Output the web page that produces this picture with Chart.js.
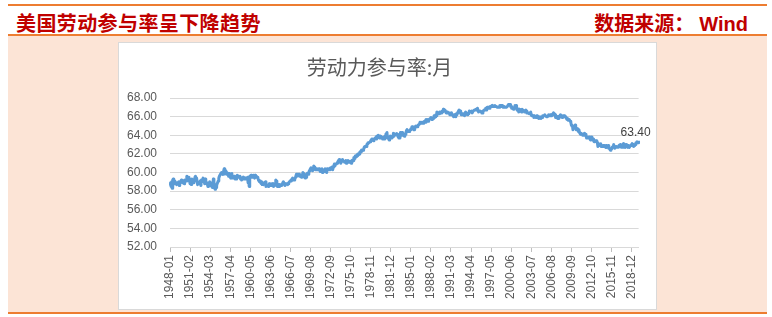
<!DOCTYPE html>
<html lang="zh-CN">
<head>
    <meta charset="UTF-8">
    <title>美国劳动参与率呈下降趋势</title>
    <script src="https://cdn.jsdelivr.net/npm/chart.js"></script>
    <style>
        body { margin: 0; width: 772px; height: 317px; background: #fff; position: relative; overflow: hidden; }
        .rule { position: absolute; left: 8px; width: 759px; height: 2px; background: #ED7D31; }
        .head { position: absolute; top: 13px; line-height: 20px; font-family: "Noto Sans CJK SC", sans-serif;
                font-size: 20px; font-weight: bold; color: #C00000; white-space: nowrap; }
        .panel { position: absolute; left: 8px; top: 36px; width: 759px; height: 276px; background: #FCE4D6; }
        .chart-box { position: absolute; left: 118px; top: 42px; width: 537px; height: 266px;
                     background: #fff; border: 1px solid #d9d9d9; }
    </style>
</head>
<body>
    <div class="rule" style="top:4px"></div>
    <div class="head" style="left:16px;letter-spacing:0.4px">美国劳动参与率呈下降趋势</div>
    <div class="head" style="right:24px">数据来源：<span style="margin-left:5px;font-family:'Liberation Sans',sans-serif">Wind</span></div>
    <div class="rule" style="top:34px"></div>
    <div class="panel"></div>
    <div class="rule" style="top:312px"></div>
    <div class="chart-box">
        <canvas id="lfprChart" width="537" height="266"></canvas>
    </div>
<script>
    // monthly labor force participation rate, 1948-01 .. 2020-01 (one row per year)
    const startYear = 1948;
    const lfpr = [
        58.6, 58.9, 58.5, 59.0, 58.3, 59.2, 59.3, 59.1, 59.1, 58.8, 58.9, 58.9,
        58.7, 58.9, 58.8, 58.8, 59.0, 58.6, 58.9, 59.0, 59.1, 59.2, 59.0, 58.9,
        58.9, 58.9, 58.8, 59.2, 59.1, 59.1, 59.1, 59.6, 59.2, 59.5, 59.5, 59.3,
        59.1, 58.8, 59.1, 58.7, 59.3, 58.9, 59.1, 59.1, 58.9, 59.3, 59.5, 59.6,
        59.2, 59.4, 59.0, 58.7, 58.8, 58.9, 58.8, 58.8, 59.1, 58.6, 59.2, 59.0,
        59.2, 59.4, 59.4, 59.0, 58.8, 59.3, 59.1, 58.8, 58.9, 58.7, 58.5, 58.5,
        58.8, 59.0, 58.6, 58.9, 58.6, 58.5, 58.4, 58.8, 59.3, 59.0, 58.5, 58.2,
        58.5, 58.4, 58.6, 58.8, 58.8, 59.1, 59.4, 59.6, 59.6, 59.8, 59.8, 60.0,
        59.9, 59.8, 59.8, 60.2, 60.4, 60.3, 60.2, 60.0, 59.8, 60.0, 59.8, 59.9,
        59.6, 59.9, 59.6, 59.5, 59.4, 59.8, 59.9, 59.4, 59.4, 59.5, 59.4, 59.6,
        59.3, 59.4, 59.3, 59.6, 59.7, 59.7, 59.5, 59.6, 59.5, 59.6, 59.3, 59.4,
        59.2, 59.3, 59.4, 59.5, 59.3, 59.3, 59.4, 59.4, 59.3, 59.4, 59.4, 59.5,
        58.9, 59.2, 58.5, 59.6, 59.6, 59.7, 59.7, 59.5, 59.6, 59.5, 59.7, 59.5,
        59.4, 59.7, 59.5, 59.6, 59.6, 59.5, 59.4, 59.2, 59.2, 59.0, 59.1, 59.0,
        58.8, 59.0, 58.7, 58.8, 58.7, 58.7, 58.9, 58.9, 59.0, 58.5, 58.6, 58.6,
        58.6, 58.5, 58.6, 58.8, 58.6, 58.6, 58.8, 58.6, 58.8, 58.7, 58.8, 58.5,
        58.6, 58.8, 58.7, 59.2, 59.1, 58.8, 58.5, 58.7, 58.7, 58.5, 58.7, 58.6,
        58.6, 58.7, 58.6, 58.8, 58.9, 59.0, 59.0, 58.8, 58.6, 58.8, 58.8, 58.8,
        58.8, 58.7, 58.8, 58.9, 59.0, 59.0, 59.1, 59.2, 59.1, 59.3, 59.4, 59.3,
        59.2, 59.2, 59.3, 59.4, 59.4, 59.8, 59.6, 59.8, 59.7, 59.8, 59.8, 59.6,
        59.6, 59.6, 59.5, 59.6, 59.8, 60.0, 59.9, 59.8, 59.5, 59.4, 59.6, 59.5,
        59.8, 59.9, 59.9, 59.8, 60.0, 60.2, 60.3, 60.4, 60.5, 60.5, 60.3, 60.2,
        60.4, 60.7, 60.6, 60.5, 60.3, 60.4, 60.4, 60.3, 60.3, 60.3, 60.4, 60.4,
        60.3, 60.1, 60.1, 60.3, 60.4, 60.0, 60.1, 60.2, 60.1, 60.3, 60.4, 60.4,
        60.1, 60.0, 60.4, 60.4, 60.4, 60.4, 60.3, 60.4, 60.5, 60.5, 60.4, 60.6,
        60.3, 60.6, 60.7, 60.9, 60.7, 60.9, 60.9, 60.9, 61.0, 61.1, 61.2, 61.2,
        61.4, 61.3, 61.1, 61.0, 61.2, 61.2, 61.4, 61.2, 61.2, 61.2, 61.1, 61.1,
        61.3, 61.0, 61.2, 61.2, 61.3, 61.1, 61.2, 61.1, 61.2, 61.1, 61.0, 61.1,
        61.3, 61.2, 61.3, 61.6, 61.5, 61.7, 61.8, 61.8, 61.7, 61.8, 62.0, 62.0,
        61.9, 62.0, 62.2, 62.2, 62.3, 62.4, 62.3, 62.4, 62.4, 62.5, 62.7, 62.8,
        62.8, 62.8, 62.8, 63.0, 63.1, 63.2, 63.2, 63.2, 63.2, 63.3, 63.4, 63.5,
        63.6, 63.6, 63.6, 63.4, 63.5, 63.6, 63.7, 63.7, 63.6, 63.9, 63.8, 63.9,
        64.0, 64.0, 63.7, 63.8, 63.9, 63.7, 63.8, 63.7, 63.6, 63.7, 63.8, 63.6,
        63.9, 63.9, 64.1, 64.2, 64.3, 63.7, 63.8, 63.8, 63.5, 63.8, 63.9, 63.7,
        63.7, 63.8, 63.8, 63.9, 64.2, 63.9, 64.0, 64.1, 64.1, 64.1, 64.2, 64.1,
        63.9, 63.8, 63.7, 63.8, 63.7, 64.3, 64.1, 64.3, 64.3, 64.0, 64.1, 64.1,
        63.9, 64.1, 64.1, 64.3, 64.5, 64.6, 64.6, 64.4, 64.4, 64.4, 64.5, 64.6,
        64.7, 64.7, 64.9, 64.9, 64.8, 64.6, 64.7, 64.6, 64.9, 65.0, 64.9, 65.0,
        64.9, 65.0, 65.1, 65.1, 65.2, 65.4, 65.4, 65.3, 65.4, 65.4, 65.4, 65.3,
        65.4, 65.5, 65.5, 65.4, 65.7, 65.5, 65.6, 65.7, 65.5, 65.7, 65.7, 65.7,
        65.8, 65.9, 65.7, 65.8, 65.7, 65.8, 65.9, 66.1, 65.9, 66.0, 66.2, 66.1,
        66.5, 66.3, 66.3, 66.4, 66.3, 66.5, 66.5, 66.5, 66.4, 66.5, 66.6, 66.5,
        66.8, 66.7, 66.7, 66.6, 66.6, 66.4, 66.5, 66.5, 66.4, 66.4, 66.4, 66.4,
        66.2, 66.2, 66.3, 66.4, 66.2, 66.2, 66.1, 66.0, 66.2, 66.1, 66.1, 66.0,
        66.3, 66.2, 66.4, 66.5, 66.6, 66.7, 66.7, 66.6, 66.4, 66.2, 66.3, 66.3,
        66.2, 66.2, 66.2, 66.1, 66.4, 66.5, 66.4, 66.4, 66.2, 66.3, 66.3, 66.4,
        66.6, 66.6, 66.5, 66.5, 66.6, 66.4, 66.4, 66.6, 66.6, 66.7, 66.7, 66.7,
        66.8, 66.8, 66.7, 66.9, 66.6, 66.5, 66.6, 66.6, 66.6, 66.6, 66.5, 66.4,
        66.4, 66.6, 66.6, 66.7, 66.7, 66.7, 66.9, 66.7, 66.9, 67.0, 66.9, 67.0,
        67.0, 66.9, 67.1, 67.1, 67.1, 67.1, 67.2, 67.1, 67.1, 67.1, 67.1, 67.2,
        67.1, 67.1, 67.1, 67.0, 67.0, 67.0, 67.0, 67.0, 67.2, 67.2, 67.1, 67.2,
        67.2, 67.2, 67.0, 67.1, 67.1, 67.1, 67.0, 67.0, 67.0, 67.0, 67.1, 67.1,
        67.3, 67.3, 67.3, 67.3, 67.1, 67.1, 66.9, 66.9, 66.9, 66.8, 66.9, 67.0,
        67.2, 67.1, 67.2, 66.9, 66.7, 66.7, 66.8, 66.5, 66.8, 66.7, 66.7, 66.7,
        66.5, 66.8, 66.6, 66.7, 66.7, 66.6, 66.5, 66.6, 66.7, 66.6, 66.4, 66.4,
        66.4, 66.4, 66.3, 66.4, 66.4, 66.5, 66.2, 66.1, 66.1, 66.1, 66.1, 65.9,
        66.1, 66.0, 66.0, 65.9, 66.0, 66.1, 66.1, 66.0, 65.8, 65.9, 66.0, 65.9,
        65.8, 65.9, 65.9, 66.1, 66.1, 66.1, 66.1, 66.2, 66.1, 66.1, 66.0, 66.0,
        66.0, 66.1, 66.2, 66.1, 66.1, 66.2, 66.1, 66.2, 66.1, 66.2, 66.3, 66.4,
        66.4, 66.3, 66.2, 65.9, 66.0, 66.0, 66.0, 65.8, 66.0, 65.8, 66.0, 66.0,
        66.2, 66.0, 66.1, 65.9, 66.1, 66.1, 66.1, 66.1, 66.0, 66.0, 65.9, 65.8,
        65.7, 65.8, 65.6, 65.7, 65.7, 65.7, 65.5, 65.4, 65.1, 65.0, 65.0, 64.6,
        64.8, 64.9, 64.9, 65.1, 64.9, 64.6, 64.6, 64.7, 64.6, 64.4, 64.6, 64.3,
        64.2, 64.1, 64.2, 64.2, 64.1, 64.0, 64.0, 64.1, 64.2, 64.1, 64.1, 64.0,
        63.7, 63.8, 63.8, 63.7, 63.8, 63.8, 63.7, 63.5, 63.6, 63.8, 63.6, 63.6,
        63.6, 63.4, 63.3, 63.4, 63.4, 63.4, 63.4, 63.3, 63.2, 62.8, 63.0, 62.9,
        62.9, 62.9, 63.1, 62.8, 62.8, 62.8, 62.9, 62.9, 62.8, 62.9, 62.9, 62.7,
        62.9, 62.7, 62.7, 62.7, 62.9, 62.6, 62.6, 62.6, 62.4, 62.5, 62.5, 62.7,
        62.7, 62.8, 63.0, 62.8, 62.6, 62.7, 62.8, 62.8, 62.8, 62.7, 62.7, 62.7,
        62.9, 62.9, 63.0, 62.9, 62.7, 62.8, 62.9, 62.9, 63.1, 62.7, 62.8, 62.7,
        62.7, 63.0, 62.9, 62.8, 62.7, 62.9, 62.9, 62.7, 62.7, 62.9, 62.9, 63.0,
        63.1, 63.1, 63.0, 62.8, 62.9, 63.0, 63.0, 63.2, 63.2, 63.3, 63.2, 63.2,
        63.4
    ];

    // labels shown on the x axis (every 37 months)
    const xTickLabels = ['1948-01', '1951-02', '1954-03', '1957-04', '1960-05', '1963-06',
        '1966-07', '1969-08', '1972-09', '1975-10', '1978-11', '1981-12', '1985-01',
        '1988-02', '1991-03', '1994-04', '1997-05', '2000-06', '2003-07', '2006-08',
        '2009-09', '2012-10', '2015-11', '2018-12'];
    const yMin = 52, yMax = 68, yStep = 2;
    const lastLabel = '63.40';

    const months = [];
    for (let i = 0; i < lfpr.length; i++) {
        const y = startYear + Math.floor(i / 12);
        const m = (i % 12) + 1;
        months.push(y + '-' + (m < 10 ? '0' + m : m));
    }
    const shown = new Set(xTickLabels);

    // value label at the last point
    const endLabel = {
        id: 'endLabel',
        afterDatasetsDraw(chart) {
            const pts = chart.getDatasetMeta(0).data;
            const p = pts[pts.length - 1];
            const ctx = chart.ctx;
            ctx.save();
            ctx.font = '12px "Liberation Sans", Arial, sans-serif';
            ctx.fillStyle = '#404040';
            ctx.textAlign = 'center';
            ctx.textBaseline = 'middle';
            ctx.fillText(lastLabel, p.x - 3, p.y - 8);
            ctx.restore();
        }
    };

    const tickFont = { family: '"Liberation Sans", Arial, sans-serif', size: 12 };

    new Chart(document.getElementById('lfprChart').getContext('2d'), {
        type: 'line',
        data: {
            labels: months,
            datasets: [{
                label: '劳动力参与率:月',
                data: lfpr,
                borderColor: '#5B9BD5',
                borderWidth: 3,
                borderJoinStyle: 'round',
                pointRadius: 0,
                tension: 0,
                fill: false
            }]
        },
        options: {
            responsive: false,
            animation: false,
            layout: { padding: { left: 0, right: 16, top: 0, bottom: 0 } },
            plugins: {
                legend: { display: false },
                tooltip: { enabled: false },
                title: {
                    display: true,
                    text: '劳动力参与率:月',
                    color: '#595959',
                    font: { family: '"Noto Sans CJK SC", sans-serif', size: 20, weight: 'normal' },
                    padding: { top: 12, bottom: 19 }
                }
            },
            scales: {
                x: {
                    type: 'category',
                    offset: false,
                    grid: {
                        drawOnChartArea: false,
                        drawTicks: true,
                        tickLength: 5,
                        tickColor: (c) => shown.has(months[c.index]) ? '#bfbfbf' : 'rgba(0,0,0,0)'
                    },
                    border: { display: true, color: '#d9d9d9' },
                    ticks: {
                        autoSkip: false,
                        minRotation: 90,
                        maxRotation: 90,
                        padding: 3,
                        color: '#595959',
                        font: tickFont,
                        callback: (v, i) => shown.has(months[i]) ? months[i] : ''
                    },
                    afterFit: (axis) => { axis.height = 62; }
                },
                y: {
                    min: yMin,
                    max: yMax,
                    grid: { color: '#d9d9d9', drawTicks: false },
                    border: { display: false },
                    ticks: {
                        stepSize: yStep,
                        padding: 13,
                        color: '#595959',
                        font: tickFont,
                        callback: (v) => Number(v).toFixed(2)
                    },
                    afterFit: (axis) => { axis.width = 51; }
                }
            }
        },
        plugins: [endLabel]
    });
</script>
</body>
</html>
